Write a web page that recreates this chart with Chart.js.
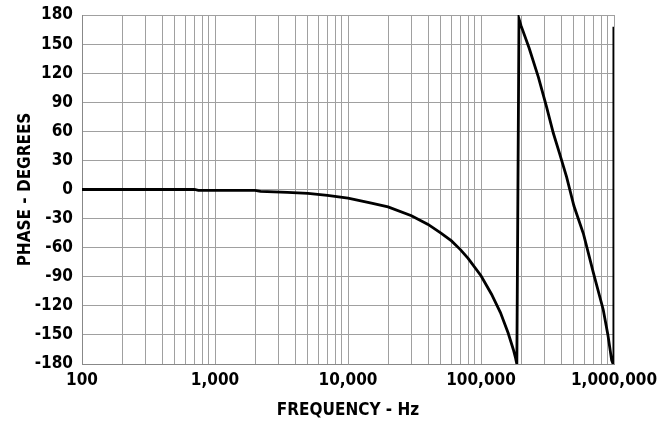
<!DOCTYPE html>
<html>
<head>
<meta charset="utf-8">
<script src="https://cdn.jsdelivr.net/npm/chart.js@4.4.1/dist/chart.umd.min.js"></script>
<style>
  html, body { margin: 0; padding: 0; background: #ffffff; }
  #wrap { width: 671px; height: 425px; position: relative; }
</style>
</head>
<body>
<div id="wrap"><canvas id="c" width="671" height="425"></canvas></div>
<script>
// Frequency (Hz) and phase (degrees)
const freqHz = [100, 700, 750, 2000, 2200, 3500, 5000, 7000, 10000, 15000, 20000, 30000, 40000, 50000, 60000, 70000, 80000, 100000, 120000, 140000, 160000, 175000, 182000, 186000, 193000, 200000, 230000, 270000, 310000, 350000, 390000, 440000, 500000, 590000, 700000, 830000, 900000, 960000, 985000, 998000];
const phaseDeg = [0, 0, -1, -1, -2, -3, -4, -6, -9, -14, -18, -27, -36, -45, -53, -62, -71, -89, -108, -127, -148, -165, -174, -180, 176, 169, 146, 116, 86, 58, 37, 13, -17, -46, -86, -124, -150, -176, -180, 168];

// Axis tick values
const xDecades = [100, 1000, 10000, 100000, 1000000];
const xMinorMultipliers = [1, 2, 3, 4, 5, 6, 7, 8, 9];
const yTicks = [-180, -150, -120, -90, -60, -30, 0, 30, 60, 90, 120, 150, 180];

const xTitle = 'FREQUENCY - Hz';
const yTitle = 'PHASE - DEGREES';

const xTickValues = [];
xDecades.forEach((d, i) => {
  if (i === xDecades.length - 1) { xTickValues.push(d); return; }
  xMinorMultipliers.forEach(m => xTickValues.push(d * m));
});

const FONT_FAMILY = '"DejaVu Sans Condensed", "Liberation Sans Narrow", "DejaVu Sans", sans-serif';
const font = { family: FONT_FAMILY, size: 17, weight: 'bold' };

new Chart(document.getElementById('c'), {
  type: 'line',
  data: {
    datasets: [{
      data: freqHz.map((f, i) => ({ x: f, y: phaseDeg[i] })),
      borderColor: '#000000',
      borderWidth: 2.8,
      pointRadius: 0,
      tension: 0,
      fill: false
    }]
  },
  options: {
    responsive: false,
    animation: false,
    devicePixelRatio: 1,
    layout: { padding: { left: 0, right: 57, top: 15, bottom: 0 } },
    plugins: { legend: { display: false }, tooltip: { enabled: false } },
    scales: {
      x: {
        type: 'logarithmic',
        min: 100,
        max: 1000000,
        afterBuildTicks: (scale) => {
          scale.ticks = xTickValues.map(v => ({ value: v }));
        },
        afterFit: (scale) => {
          scale.height = 61;
          scale.paddingLeft = 0;
          scale.paddingRight = 0;
        },
        ticks: {
          autoSkip: false,
          maxRotation: 0,
          padding: 6,
          color: '#000000',
          font: font,
          callback: (value) => xDecades.includes(value) ? value.toLocaleString('en-US') : ''
        },
        grid: { color: '#a0a0a0', lineWidth: 1, drawTicks: false },
        border: { color: '#888888', width: 1 },
        title: { display: true, text: xTitle, color: '#000000', font: font, padding: { top: 0, bottom: 4 } }
      },
      y: {
        type: 'linear',
        min: -180,
        max: 180,
        afterBuildTicks: (scale) => {
          scale.ticks = yTicks.map(v => ({ value: v }));
        },
        afterFit: (scale) => {
          scale.width = 82;
          scale.paddingTop = 0;
          scale.paddingBottom = 0;
        },
        ticks: {
          padding: 9,
          color: '#000000',
          font: font
        },
        grid: { color: '#a0a0a0', lineWidth: 1, drawTicks: false },
        border: { color: '#888888', width: 1 },
        title: { display: true, text: yTitle, color: '#000000', font: font, padding: { top: 15, bottom: 0 } }
      }
    }
  }
});
</script>
</body>
</html>
